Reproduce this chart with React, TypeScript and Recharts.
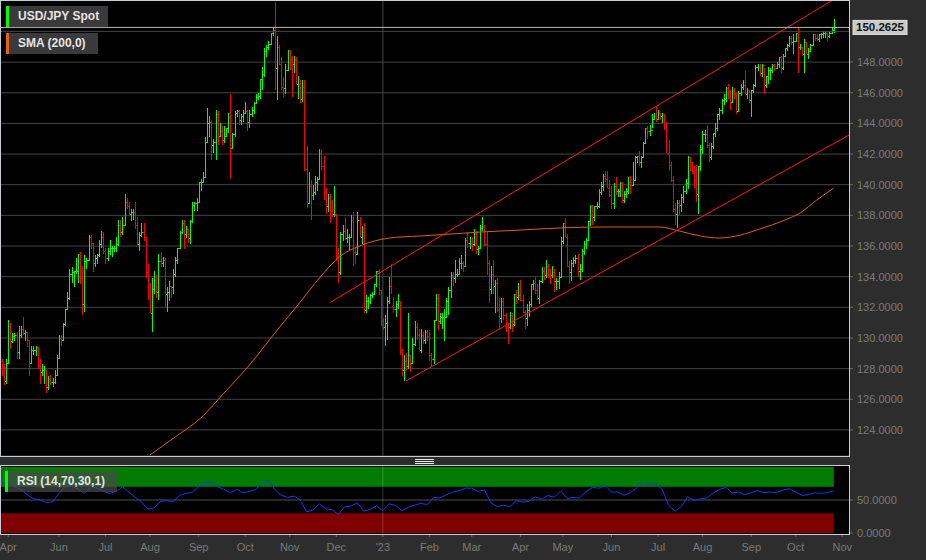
import React from 'react';
import { ComposedChart, Bar, Line, XAxis, YAxis, CartesianGrid, ReferenceLine, ReferenceArea } from 'recharts';

const UP = '#00ff00';
const DOWN = '#ff0000';
const FONT = '"Liberation Sans", Arial, Helvetica, sans-serif';

// USD/JPY daily bars, one per weekday, 25 Apr 2022 .. 26 Oct 2023
// open of each bar = previous close (FX trades round the clock)
const firstOpen = 128.5;

const highs = [
  128.6, 128.3, 128.6, 131.2, 131.0,
  130.3, 130.3, 130.4, 130.8, 130.8, 131.35, 130.5, 130.4, 129.9, 129.5, 129.5, 129.5, 129.4, 128.6, 128.3, 128.2, 127.9, 127.5, 127.6, 127.4, 127.9, 128.9,
  130.2, 130.2, 131.0, 131.9, 133.0, 134.5, 134.6, 134.4, 135.2, 135.5, 135.6, 134.7, 135.4, 135.2, 136.7, 136.7, 136.2, 135.4, 135.5, 136.4, 137.0, 136.9,
  135.9, 135.9, 136.4, 136.0, 136.0, 136.6, 137.7, 137.7, 137.9, 139.4, 139.1, 138.9, 138.4, 138.4, 138.9, 137.9, 136.9, 137.5, 137.5, 136.6, 134.8,
  133.6, 133.9, 134.4, 134.1, 135.5, 135.6, 135.3, 135.2, 133.3, 133.7, 133.4, 134.5, 135.3, 135.9, 137.0, 137.7, 137.7, 137.3, 137.1, 137.7, 138.9, 138.9, 139.1,
  140.2, 140.4, 140.8, 143.1, 145.0, 144.5, 144.2, 143.0, 144.9, 144.8, 144.0, 143.8, 143.8, 143.7, 144.7, 145.9, 143.4, 144.8, 144.9, 144.9, 144.6, 144.9,
  145.4, 144.9, 144.9, 145.1, 145.4, 145.9, 146.0, 146.9, 147.7, 148.9, 149.1, 149.4, 149.9, 150.3, 151.95, 149.7, 149.1, 148.3, 147.0, 147.9, 148.8,
  148.8, 148.4, 148.4, 148.3, 147.1, 146.8, 146.8, 146.8, 142.5, 140.8, 140.3, 140.0, 140.6, 140.5, 142.3, 142.3, 141.9, 139.8, 139.4, 139.4, 139.0, 139.9,
  138.1, 135.9, 136.9, 137.4, 137.9, 137.1, 136.8, 138.0, 138.2, 135.9, 138.2, 137.9, 137.3, 137.5, 132.8, 132.7, 132.9, 133.0, 133.5, 134.4, 134.5, 133.1,
  131.3, 131.5, 132.7, 134.0, 134.8, 132.7, 132.4, 132.9, 132.4, 129.3, 128.9, 129.0, 131.6, 128.9, 130.0, 131.1, 131.0, 130.6, 130.6, 130.4, 130.5, 130.5,
  130.5, 129.0, 131.2, 132.9, 132.9, 131.6, 131.6, 131.9, 132.6, 133.3, 134.3, 134.3, 135.1, 134.5, 135.2, 135.4, 135.0, 136.5, 136.9, 136.6,
  136.6, 137.1, 137.0, 136.0, 137.4, 137.9, 137.4, 136.9, 135.1, 134.7, 135.1, 133.8, 133.9, 132.6, 132.6, 132.6, 131.6, 131.0, 131.7, 131.6, 132.9, 133.1, 133.6,
  133.8, 132.8, 131.8, 132.2, 132.4, 133.5, 133.8, 134.0, 133.5, 133.8, 134.6, 134.6, 135.1, 134.8, 134.5, 134.7, 134.5, 133.9, 134.3, 136.6,
  137.5, 137.8, 136.8, 135.0, 135.1, 135.3, 135.4, 135.5, 134.8, 135.8, 136.3, 136.5, 137.6, 138.7, 138.7, 138.6, 138.9, 139.7, 140.2, 140.7, 140.9, 140.9, 140.3,
  139.9, 140.1, 140.5, 139.7, 140.2, 140.2, 139.6, 139.8, 140.5, 140.6, 141.5, 141.9, 141.9, 142.2, 141.9, 142.8, 143.7, 143.8, 143.9, 144.6, 144.7, 145.1,
  144.9, 144.7, 144.7, 144.6, 144.1, 142.9, 141.5, 140.6, 138.8, 139.0, 139.0, 139.4, 139.9, 140.4, 141.9, 141.8, 141.5, 141.2, 141.3, 141.2, 142.6,
  143.5, 143.6, 143.9, 142.7, 142.7, 143.4, 144.0, 144.6, 145.0, 145.6, 145.9, 146.4, 146.6, 146.2, 146.4, 146.3, 146.0, 146.1, 146.6, 146.8, 147.4, 146.3, 146.2,
  146.2, 146.6, 147.8, 147.9, 147.9, 147.9, 147.6, 147.1, 147.7, 147.6, 147.9, 147.9, 148.0, 148.3, 148.4, 148.5, 148.9, 149.2, 149.7, 149.7, 149.8,
  149.9, 150.2, 149.2, 149.0, 149.5, 149.3, 148.9, 149.2, 149.8, 149.8, 149.8, 149.8, 149.9, 150.0, 150.0, 150.0, 150.0, 150.3, 150.8,
];

const lows = [
  127.5, 126.9, 127.0, 128.4, 129.3,
  129.7, 129.8, 128.6, 128.6, 130.0, 130.2, 129.8, 129.4, 127.5, 128.3, 128.9, 128.8, 128.0, 127.0, 127.5, 127.0, 126.4, 126.6, 126.9, 126.8, 127.0, 127.5,
  128.6, 129.5, 129.9, 130.8, 131.8, 132.5, 133.6, 133.3, 134.2, 133.6, 133.5, 131.5, 131.7, 134.5, 135.0, 135.8, 134.3, 134.6, 134.8, 135.3, 135.9, 135.5,
  134.8, 135.0, 135.4, 135.3, 135.6, 135.6, 136.0, 136.6, 136.7, 137.4, 138.4, 138.0, 137.6, 137.7, 137.1, 136.0, 135.7, 136.6, 136.3, 133.9, 132.5,
  131.6, 130.4, 132.9, 132.6, 132.5, 134.6, 134.6, 132.0, 131.7, 132.4, 132.6, 132.9, 134.0, 134.8, 135.8, 136.8, 135.8, 136.5, 136.2, 136.1, 137.5, 138.3, 138.3,
  138.8, 139.6, 140.2, 140.5, 142.7, 143.1, 141.6, 142.1, 141.6, 142.6, 143.2, 142.6, 142.7, 143.1, 143.4, 140.4, 142.3, 143.1, 144.4, 143.9, 143.9, 144.1,
  144.6, 143.5, 143.7, 144.4, 144.6, 145.3, 145.5, 145.6, 146.2, 147.0, 148.3, 148.8, 149.1, 149.7, 146.2, 145.5, 147.8, 146.2, 145.7, 145.9, 147.5,
  147.5, 145.7, 147.3, 146.6, 145.6, 145.3, 145.4, 140.9, 138.5, 138.8, 137.7, 139.0, 139.3, 139.6, 140.3, 140.9, 139.0, 138.1, 138.2, 137.5, 137.9, 137.9,
  135.0, 133.6, 134.1, 136.3, 136.4, 136.2, 135.7, 136.6, 134.7, 134.8, 135.4, 136.6, 136.1, 131.6, 131.6, 131.9, 132.2, 132.6, 132.8, 133.3, 132.8, 130.8,
  130.5, 129.5, 129.9, 132.2, 132.9, 131.6, 131.4, 131.9, 128.9, 127.5, 127.2, 127.9, 128.0, 127.8, 128.3, 129.5, 129.9, 129.2, 129.0, 129.6, 129.6, 129.8,
  128.5, 128.1, 128.3, 131.2, 130.5, 130.9, 130.6, 129.8, 131.3, 131.5, 132.6, 133.4, 133.6, 134.0, 134.1, 134.5, 134.3, 134.6, 135.9, 135.8,
  135.7, 136.0, 135.5, 135.4, 135.8, 137.0, 136.0, 134.1, 132.3, 132.9, 132.9, 131.6, 131.7, 130.6, 131.0, 131.2, 130.4, 129.6, 130.6, 130.4, 130.8, 132.2, 132.5,
  132.4, 131.6, 130.6, 130.8, 131.4, 132.0, 133.1, 132.9, 132.5, 132.2, 133.6, 133.8, 133.9, 133.9, 133.5, 133.9, 133.0, 133.1, 133.2, 133.9,
  136.1, 136.6, 134.6, 133.5, 133.7, 134.6, 134.8, 134.0, 133.8, 134.3, 135.4, 135.8, 136.3, 137.3, 137.4, 137.6, 138.4, 138.5, 139.3, 139.6, 140.2, 139.8, 139.2,
  138.4, 138.4, 139.3, 139.2, 139.2, 138.8, 138.8, 139.1, 139.4, 139.4, 139.9, 140.3, 141.4, 141.2, 141.1, 141.8, 142.7, 143.0, 143.2, 143.7, 144.2, 144.1,
  144.3, 144.2, 144.0, 143.6, 142.1, 140.9, 140.2, 138.2, 137.4, 137.2, 138.0, 138.2, 138.8, 139.4, 139.7, 140.9, 140.7, 139.8, 138.9, 138.1, 140.9,
  142.0, 142.8, 142.4, 141.5, 141.6, 142.3, 143.1, 143.5, 144.2, 144.6, 145.2, 145.4, 145.6, 144.9, 145.3, 145.6, 144.6, 144.8, 145.8, 146.2, 145.9, 145.6, 145.3,
  144.4, 146.0, 146.4, 147.4, 147.1, 147.0, 145.9, 146.3, 146.6, 146.8, 147.3, 147.4, 147.6, 147.6, 147.3, 147.5, 148.3, 148.7, 149.0, 149.1, 148.5,
  149.3, 147.3, 148.8, 148.4, 147.3, 148.5, 148.2, 148.7, 149.1, 149.4, 149.4, 149.3, 149.5, 149.6, 149.6, 149.4, 149.6, 149.8, 149.9,
];

const closes = [
  128.1, 127.2, 128.4, 130.8, 129.8,
  130.1, 130.2, 129.1, 130.2, 130.6, 130.3, 130.4, 129.9, 128.4, 129.2, 129.2, 129.4, 128.2, 127.8, 127.9, 127.9, 126.8, 127.3, 127.1, 127.1, 127.6, 128.7,
  130.0, 129.9, 130.9, 131.9, 132.6, 134.2, 134.3, 134.4, 134.4, 135.5, 133.9, 132.2, 135.0, 135.1, 136.6, 136.2, 134.9, 135.2, 135.4, 136.1, 136.6, 135.7,
  135.2, 135.7, 135.9, 135.9, 135.9, 136.1, 137.4, 136.9, 137.4, 138.9, 138.6, 138.1, 138.2, 138.2, 137.4, 136.1, 136.7, 136.9, 136.6, 134.3, 133.3,
  131.6, 133.2, 133.8, 133.0, 135.0, 134.9, 135.1, 132.9, 133.0, 133.4, 133.3, 134.2, 135.1, 135.9, 136.9, 137.5, 136.8, 137.1, 136.5, 137.6, 138.7, 138.8, 138.9,
  140.2, 140.2, 140.5, 142.8, 144.0, 144.1, 142.6, 142.8, 144.6, 143.2, 143.5, 142.9, 143.2, 143.7, 144.4, 142.4, 143.3, 144.7, 144.8, 144.2, 144.5, 144.7,
  144.8, 144.1, 144.6, 144.9, 145.3, 145.7, 145.8, 146.9, 147.2, 148.7, 149.0, 149.2, 149.9, 150.1, 147.6, 149.0, 147.9, 146.4, 146.3, 147.5, 148.7,
  148.2, 147.9, 148.2, 146.6, 146.6, 145.6, 146.4, 141.0, 138.8, 139.9, 139.3, 139.5, 140.2, 140.4, 142.1, 141.2, 139.5, 138.6, 139.1, 138.9, 138.1, 138.1,
  135.3, 134.3, 136.8, 137.0, 136.5, 136.6, 136.6, 137.7, 135.6, 135.5, 137.7, 136.6, 136.9, 131.8, 132.4, 132.4, 132.8, 132.9, 133.5, 134.4, 133.1, 131.1,
  130.7, 131.0, 132.4, 133.4, 132.1, 131.9, 132.2, 132.4, 129.2, 127.9, 128.5, 128.2, 128.9, 128.4, 129.6, 130.7, 130.2, 129.2, 130.2, 129.9, 130.4, 130.1,
  128.9, 128.6, 131.2, 132.6, 131.1, 131.4, 131.4, 131.4, 132.4, 133.1, 134.1, 133.9, 134.2, 134.2, 134.9, 134.9, 134.7, 136.4, 136.2, 136.2,
  136.1, 136.8, 135.8, 135.9, 137.2, 137.3, 136.1, 134.9, 133.2, 134.2, 133.4, 133.6, 131.8, 131.3, 132.4, 131.5, 130.8, 130.7, 131.5, 130.9, 132.9, 132.7, 132.8,
  132.5, 131.7, 131.3, 131.8, 132.2, 133.5, 133.6, 133.1, 132.6, 133.7, 134.4, 134.1, 134.7, 134.2, 134.1, 134.3, 133.7, 133.7, 134.0, 136.3,
  137.5, 136.6, 134.7, 134.3, 134.9, 135.1, 135.2, 134.4, 134.5, 135.7, 136.1, 136.4, 137.6, 138.6, 137.9, 138.6, 138.6, 139.5, 139.9, 140.6, 140.4, 139.8, 139.3,
  138.8, 139.9, 139.6, 139.6, 140.1, 139.0, 139.4, 139.6, 140.2, 140.0, 140.3, 141.8, 141.9, 141.5, 141.8, 142.7, 143.7, 143.5, 143.6, 144.3, 144.5, 144.3,
  144.7, 144.5, 144.6, 144.0, 142.1, 141.3, 140.3, 138.4, 138.1, 138.8, 138.7, 139.2, 139.6, 140.1, 141.8, 141.5, 140.9, 140.3, 139.4, 141.2, 142.3,
  143.3, 143.3, 142.6, 141.8, 142.5, 143.4, 143.7, 144.6, 144.9, 145.5, 145.6, 146.3, 146.1, 145.4, 146.2, 145.9, 144.8, 146.0, 146.4, 146.5, 145.9, 146.2, 145.5,
  146.2, 146.5, 147.7, 147.7, 147.3, 147.8, 146.5, 147.1, 147.5, 147.5, 147.8, 147.6, 147.9, 148.3, 147.6, 148.4, 148.9, 149.1, 149.6, 149.3, 149.4,
  149.9, 149.0, 149.0, 148.5, 149.3, 148.5, 148.7, 149.1, 149.8, 149.6, 149.5, 149.8, 149.8, 149.9, 149.9, 149.7, 149.9, 150.1, 150.2625,
];

// 200-day SMA, read at a handful of bars
const smaIdx = [70, 82, 94, 105, 117, 129, 141, 150, 160, 169, 183, 197, 212, 226, 245, 264, 283, 301, 311, 320, 330, 339, 349, 358, 370, 377, 385, 393];
const smaVal = [122.37, 123.55, 124.78, 126.41, 128.24, 130.33, 132.35, 133.91, 135.35, 136.0, 136.52, 136.65, 136.78, 136.91, 137.04, 137.18, 137.24, 137.24, 137.24, 136.98, 136.65, 136.52, 136.72, 137.11, 137.7, 138.15, 139.0, 139.78];

// RSI(14), read every 3rd bar
const rsiStep = 3;
const rsiVal = [
  77, 74, 70, 66, 58, 52, 50, 46, 47, 60,
  70, 71, 67, 60, 70, 68, 63, 60, 63, 70,
  62, 54, 47, 36, 38, 48, 49, 47, 57, 60,
  62, 70, 76, 77, 70, 66, 61, 66, 61, 63,
  66, 76, 80, 66, 57, 54, 56, 50, 32, 35,
  44, 37, 35, 28, 40, 41, 46, 33, 36, 41,
  34, 44, 42, 34, 39, 42, 45, 43, 54, 53,
  58, 62, 64, 68, 68, 63, 65, 46, 40, 42,
  40, 49, 47, 48, 55, 51, 57, 54, 64, 52,
  54, 53, 63, 69, 68, 72, 62, 62, 57, 61,
  69, 75, 74, 74, 66, 42, 33, 40, 55, 49,
  52, 53, 60, 66, 69, 61, 62, 58, 61, 64,
  61, 62, 61, 65, 67, 62, 57, 58, 61, 60,
  61, 64,
];

const monthTicks = [3, 27, 49, 70, 93, 115, 136, 158, 180, 202, 222, 245, 265, 288, 310, 331, 354, 375, 397];
const monthLabels = ['Apr', 'Jun', 'Jul', 'Aug', 'Sep', 'Oct', 'Nov', 'Dec', "'23", 'Feb', 'Mar', 'Apr', 'May', 'Jun', 'Jul', 'Aug', 'Sep', 'Oct', 'Nov'];
// 150 gets a grid line but its label sits under the price tag
const priceTicks = [124, 126, 128, 130, 132, 134, 136, 138, 140, 142, 144, 146, 148];
const hiddenTick = 150;
const rsiTicks = [0, 50];
const yearStart = 180;

// trend channel: [bar index, price] end points
const channels = [
  { x1: 155.0, y1: 132.3, x2: 392.6, y2: 152.05 },
  { x1: 190.9, y1: 127.2, x2: 400.2, y2: 143.24 },
];

const X_DOMAIN: [number, number] = [-0.85, 400.19];
const lastBar = closes.length - 1;
const lastPrice = closes[lastBar];

const rows = closes.map((c, i) => {
  const o = i === 0 ? firstOpen : closes[i - 1];
  const s = smaIdx.indexOf(i);
  return {
    i,
    o,
    h: highs[i],
    l: lows[i],
    c,
    range: [lows[i], highs[i]],
    sma: s >= 0 ? smaVal[s] : null,
    rsi: i % rsiStep === 0 ? rsiVal[i / rsiStep] : null,
  };
});

function OhlcBar(props: any) {
  const { x, y, width, height, payload } = props;
  if (!payload || x == null || y == null) return null;
  const top = Math.min(y, y + height);
  const span = Math.abs(height);
  const k = span / (payload.h - payload.l || 1);
  const cx = Math.round(x + width / 2) + 0.5;
  const yo = Math.round(top + (payload.h - payload.o) * k) + 0.5;
  const yc = Math.round(top + (payload.h - payload.c) * k) + 0.5;
  const col = payload.c >= payload.o ? UP : DOWN;
  return (
    <g stroke={col} strokeWidth={1} shapeRendering="crispEdges">
      <line x1={cx} y1={top} x2={cx} y2={top + span} />
      <line x1={cx - 2} y1={yo} x2={cx} y2={yo} />
      <line x1={cx} y1={yc} x2={cx + 2} y2={yc} />
    </g>
  );
}

function PriceTag(props: any) {
  const vb = props.viewBox;
  if (!vb) return null;
  const x = vb.x + vb.width + 4;
  const y = vb.y;
  return (
    <g>
      <rect x={x} y={y - 7} width={54} height={14} fill="#c9c9c9" stroke="#e2e2e2" />
      <text x={x + 27} y={y + 4} textAnchor="middle" fill="#141414" fontSize={11.5} fontWeight={600} fontFamily={FONT}>
        {lastPrice.toFixed(4)}
      </text>
    </g>
  );
}

function Tag({ left, top, width, color, text, bg }: any) {
  return (
    <div
      style={{
        position: 'absolute',
        left,
        top,
        width,
        height: 21,
        background: bg,
        color: '#e4e4e4',
        font: `bold 12px ${FONT}`,
        lineHeight: '21px',
        paddingLeft: 12,
        boxSizing: 'border-box',
      }}
    >
      <div style={{ position: 'absolute', left: 0, top: 0, width: 3, height: 21, background: color }} />
      {text}
    </div>
  );
}

const axisTick = { fill: '#7a7a7a', fontSize: 11, fontFamily: FONT };

export default function App() {
  return (
    <div style={{ position: 'fixed', left: 0, top: 0, width: 926, height: 560, background: '#2d2d2d', overflow: 'hidden' }}>
      {/* plot backgrounds */}
      <div style={{ position: 'absolute', left: 0, top: 0, width: 849, height: 456, background: '#000' }} />
      <div style={{ position: 'absolute', left: 0, top: 465, width: 849, height: 69, background: '#000' }} />

      <div style={{ position: 'absolute', left: 0, top: 0 }}>
        <ComposedChart width={926} height={457} data={rows} margin={{ top: 0, right: 0, bottom: 1, left: 0 }}>
          <CartesianGrid vertical={false} stroke="#444444" />
          <XAxis type="number" dataKey="i" domain={X_DOMAIN} allowDataOverflow hide />
          <YAxis
            orientation="right"
            width={77}
            domain={[122.3, 152.05]}
            allowDataOverflow
            ticks={priceTicks}
            interval={0}
            tickFormatter={(v: number) => v.toFixed(4)}
            axisLine={false}
            tickLine={{ stroke: '#6a6a6a' }}
            tickSize={4}
            tickMargin={4}
            tick={axisTick}
          />
          <ReferenceLine y={hiddenTick} stroke="#444444" />
          <ReferenceLine x={yearStart} stroke="#4a4a4a" />
          <Bar dataKey="range" barSize={2} shape={OhlcBar} isAnimationActive={false} />
          <Line dataKey="sma" type="monotone" stroke="#e0600a" strokeWidth={1} dot={false} connectNulls isAnimationActive={false} />
          {channels.map((ch, n) => (
            <ReferenceLine
              key={n}
              segment={[{ x: ch.x1, y: ch.y1 }, { x: ch.x2, y: ch.y2 }]}
              stroke="#ff1a1a"
              strokeWidth={1}
              ifOverflow="visible"
            />
          ))}
          <ReferenceLine y={lastPrice} stroke="#b8b8b8" label={<PriceTag />} />
        </ComposedChart>
      </div>

      <div style={{ position: 'absolute', left: 0, top: 460 }}>
        <ComposedChart width={926} height={100} data={rows} margin={{ top: 5, right: 0, bottom: 0, left: 0 }}>
          <XAxis
            type="number"
            dataKey="i"
            domain={X_DOMAIN}
            allowDataOverflow
            ticks={monthTicks}
            interval={0}
            tickFormatter={(v: number) => monthLabels[monthTicks.indexOf(v)] || ''}
            height={26}
            axisLine={false}
            tickLine={{ stroke: '#6a6a6a' }}
            tickSize={3}
            tickMargin={6}
            tick={axisTick}
          />
          <YAxis
            orientation="right"
            width={77}
            domain={[-1.52, 103.03]}
            allowDataOverflow
            ticks={rsiTicks}
            interval={0}
            tickFormatter={(v: number) => v.toFixed(4)}
            axisLine={false}
            tickLine={{ stroke: '#6a6a6a' }}
            tickSize={4}
            tickMargin={4}
            tick={axisTick}
          />
          <ReferenceArea x1={-0.4} x2={lastBar} y1={70} y2={100} fill="#007d00" fillOpacity={1} stroke="none" />
          <ReferenceArea x1={-0.4} x2={lastBar} y1={0} y2={30} fill="#800000" fillOpacity={1} stroke="none" />
          <ReferenceLine y={50} stroke="#505050" />
          <ReferenceLine x={yearStart} stroke="rgba(255,255,255,0.2)" />
          <Line dataKey="rsi" type="linear" stroke="#1a35ff" strokeWidth={1} dot={false} connectNulls isAnimationActive={false} />
        </ComposedChart>
      </div>

      {/* panel borders */}
      <div style={{ position: 'absolute', left: 0, top: 0, width: 850, height: 457, border: '1px solid #c8ccd6', boxSizing: 'border-box', pointerEvents: 'none' }} />
      <div style={{ position: 'absolute', left: 0, top: 465, width: 850, height: 70, border: '1px solid #c8ccd6', boxSizing: 'border-box', pointerEvents: 'none' }} />

      {/* splitter handle */}
      <div style={{ position: 'absolute', left: 415, top: 459, width: 19, height: 1, background: '#e8e8e8' }} />
      <div style={{ position: 'absolute', left: 415, top: 461, width: 19, height: 1, background: '#e8e8e8' }} />
      <div style={{ position: 'absolute', left: 415, top: 463, width: 19, height: 1, background: '#e8e8e8' }} />

      <Tag left={6} top={6} width={102} color="#00ff00" bg="#3a3a3a" text="USD/JPY Spot" />
      <Tag left={6} top={33} width={92} color="#e86010" bg="#3a3a3a" text="SMA (200,0)" />
      <Tag left={5} top={471} width={112} color="#00ff00" bg="rgba(72,72,72,0.72)" text="RSI (14,70,30,1)" />
    </div>
  );
}
